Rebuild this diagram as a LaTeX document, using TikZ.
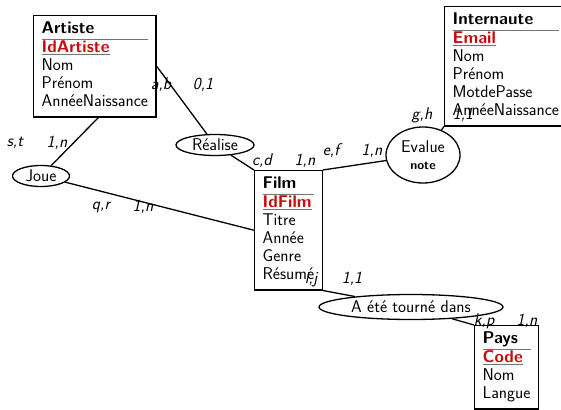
\documentclass[tikz,border=0pt]{standalone}
\usepackage{colortbl}
\usetikzlibrary{shapes.geometric}
\definecolor{keyred}{RGB}{200,10,10}
\arrayrulecolor{black!55}
\setlength{\arrayrulewidth}{1.2pt}
\newcommand{\keyattr}[1]{{\color{black!55}\underline{\textcolor{keyred}{\textbf{#1}}}}}
\newcommand{\erfont}{\fontsize{17}{18}\selectfont\sffamily}
\tikzset{
  entity/.style={draw, rectangle, line width=1.3pt, anchor=north west, inner xsep=8pt, inner ysep=5pt, font=\erfont},
  relation/.style={draw, ellipse, line width=1.3pt, inner sep=1pt, align=center, font=\erfont},
  card/.style={inner sep=0pt, font=\erfont\itshape},
  link/.style={line width=1.3pt}
}
\begin{document}
\begin{tikzpicture}[x=1pt,y=1pt]
\useasboundingbox (0,0) rectangle (561,-409);
\node [entity] (Artiste) at (33,-15) {\begin{tabular}{@{}l@{}}\textbf{Artiste}\\\hline \keyattr{IdArtiste}\\ Nom\\ Prénom\\ AnnéeNaissance\end{tabular}};
\node [entity] (Internaute) at (444,-6) {\begin{tabular}{@{}l@{}}\textbf{Internaute}\\\hline \keyattr{Email}\\ Nom\\ Prénom\\ MotdePasse\\ AnnéeNaissance\end{tabular}};
\node [entity] (Film) at (254,-170) {\begin{tabular}{@{}l@{}}\textbf{Film}\\\hline \keyattr{IdFilm}\\ Titre\\ Année\\ Genre\\ Résumé\end{tabular}};
\node [entity] (Pays) at (474,-325) {\begin{tabular}{@{}l@{}}\textbf{Pays}\\\hline \keyattr{Code}\\ Nom\\ Langue\end{tabular}};
\node [relation, minimum width=78pt, minimum height=21pt] (Realise) at (215,-145) {Réalise};
\node [relation, minimum width=57pt, minimum height=21pt] (Joue) at (41,-176) {Joue};
\node [relation, minimum width=74pt, minimum height=56pt] (Evalue) at (423,-155) {Evalue\\[-1pt]{\fontsize{12.5}{14}\selectfont\bfseries note}};
\node [relation, minimum width=184pt, minimum height=25pt] (Tourne) at (411,-307) {A été tourné dans};
\draw [link] (Artiste.east) -- (Realise);
\draw [link] (Realise) -- (Film.north west);
\draw [link] (Artiste.-86) -- (Joue);
\draw [link] (Joue) -- (Film.west);
\draw [link] (Film.north east) -- (Evalue);
\draw [link] (Evalue) -- (Internaute.south west);
\draw [link] (Film.south east) -- (Tourne);
\draw [link] (Tourne) -- (Pays.north west);
\node [card] (ab) at (161,-85) {a,b};
\node [card] (ab2) at (203,-85) {0,1};
\node [card] (st) at (15,-143) {s,t};
\node [card] (st2) at (57,-143) {1,n};
\node [card] (cd) at (262,-161) {c,d};
\node [card] (cd2) at (305,-161) {1,n};
\node [card] (ef) at (331,-151) {e,f};
\node [card] (ef2) at (372,-151) {1,n};
\node [card] (gh) at (422,-115) {g,h};
\node [card] (gh2) at (463,-115) {1,1};
\node [card] (qr) at (101,-207) {q,r};
\node [card] (qr2) at (143,-207) {1,n};
\node [card] (ij) at (311,-280) {i,j};
\node [card] (ij2) at (352,-279) {1,1};
\node [card] (kp) at (484,-321) {k,p};
\node [card] (kp2) at (527,-321) {1,n};
\end{tikzpicture}
\end{document}
